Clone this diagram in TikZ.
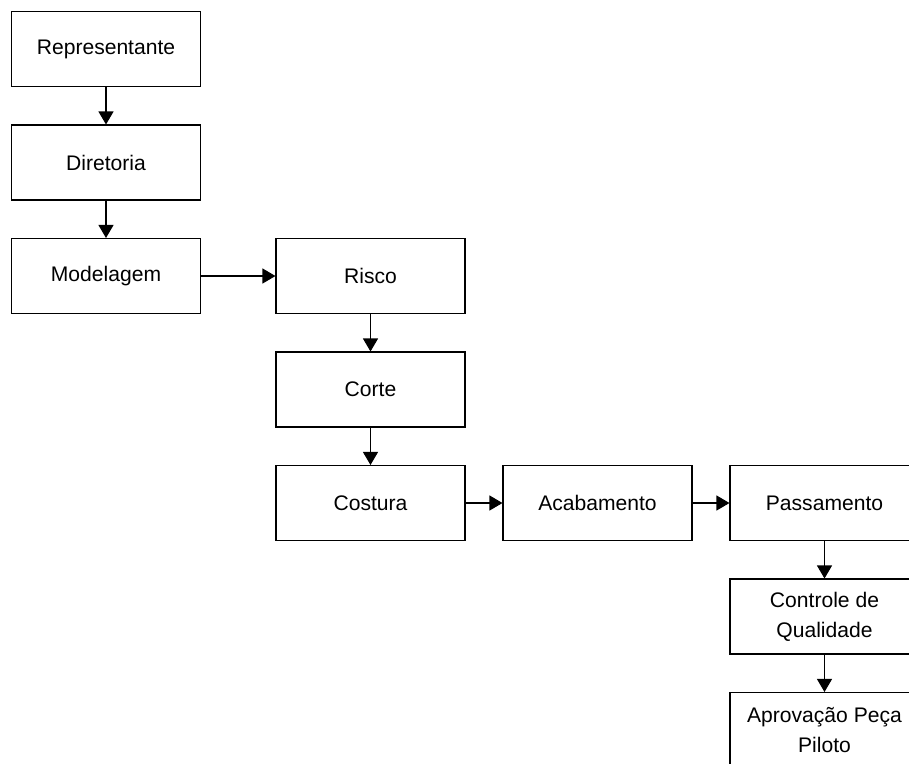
\documentclass[tikz,border=0pt]{standalone}
\usepackage{fontspec}
\setmainfont{Liberation Sans}
\usepackage{tikz}
\usetikzlibrary{arrows.meta}
\usetikzlibrary{positioning}
\tikzset{>={Triangle[width=0.3cm,length=0.26cm]}}

\begin{document}
\begin{tikzpicture}[etapa/.style={draw, line width=0.6pt, minimum width=3.78cm, minimum height=1.5cm, align=center, font=\fontsize{12}{17}\selectfont}, node distance=2.27cm and 4.54cm, on grid]
		\useasboundingbox (0,0) rectangle (18.18,-15.26);
		\clip (0,0) rectangle (18.18,-15.26);
		\node[etapa] (rep) at (2.12,-0.98) {Representante};
		\node[etapa] (dir) [below=of rep] {Diretoria};
		\node[etapa] (mod) [below=of dir] {Modelagem};
		\node[etapa] (risco) [right=5.29cm of mod] {Risco};
		\node[etapa] (corte) [below=of risco] {Corte};
		\node[etapa] (cost) [below=of corte] {Costura};
		\node[etapa] (acab) [right=of cost] {Acabamento};
		\node[etapa] (pass) [right=of acab] {Passamento};
		\node[etapa] (ctrl) [below=of pass] {Controle de\\Qualidade};
		\node[etapa] (aprov) [below=of ctrl] {Aprovação Peça\\Piloto};
		\path[->, line width=0.6pt]
			(rep) edge (dir)
			(dir) edge (mod)
			(mod) edge (risco)
			(risco) edge (corte)
			(corte) edge (cost)
			(cost) edge (acab)
			(acab) edge (pass)
			(pass) edge (ctrl)
			(ctrl) edge (aprov);
	\end{tikzpicture}
\end{document}
